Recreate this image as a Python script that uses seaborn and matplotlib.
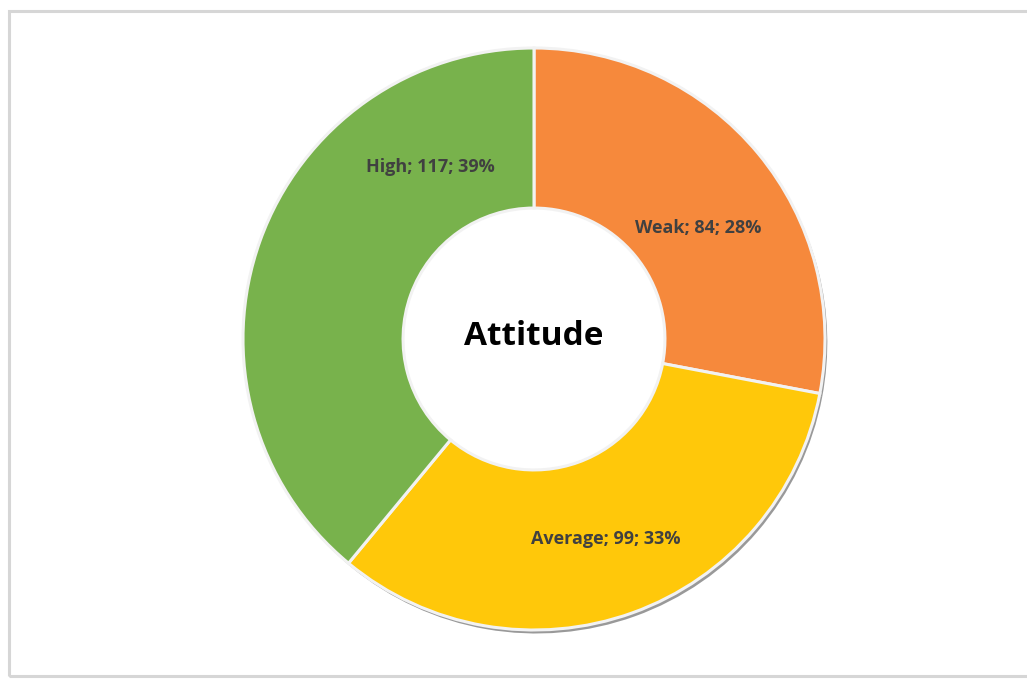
import numpy as np
import matplotlib
matplotlib.use("Agg")
import matplotlib.pyplot as plt
import seaborn as sns
from matplotlib.patches import Rectangle

categories = ["Weak", "Average", "High"]
values = [84, 99, 117]
percents = [28, 33, 39]
colors = ["#F6893C", "#FFC80A", "#78B24C"]
center_title = "Attitude"

sns.set_theme(style="white")
plt.rcParams['font.family'] = ['Open Sans', 'DejaVu Sans']
palette = sns.color_palette(colors)

fig = plt.figure(figsize=(10.27, 6.79), dpi=100)
fig.patch.set_facecolor("white")

# outer frame
fig.patches.append(Rectangle((9/1027, 3/679), 1.2, 665/679, transform=fig.transFigure,
                             fill=False, edgecolor="#D6D6D6", linewidth=2.2))

cx, cy, R = 534, 339, 291
ax = fig.add_axes([(cx - R)/1027, (679 - cy - R)/679, 2*R/1027, 2*R/679])

width = 0.55
# subtle shadow (outer edge only)
ax.pie(values, radius=1.0, startangle=90, counterclock=False,
       colors=["#999999"]*3, wedgeprops=dict(width=0.45, linewidth=0),
       center=(0.008, -0.012))
wedges, _ = ax.pie(values, radius=1.0, startangle=90, counterclock=False,
                   colors=palette,
                   wedgeprops=dict(width=width, edgecolor="#F2F2F2", linewidth=2.2))
ax.set_xlim(-1, 1)
ax.set_ylim(-1, 1)
ax.set_aspect("equal")
ax.axis("off")

# label angles (degrees clockwise from top); High placed as in the reference
total = sum(values)
cum = np.cumsum([0] + values)
label_r = [0.68, 0.73, 0.69]
label_ang = []
for i in range(len(values)):
    mid = (cum[i] + cum[i + 1]) / 2 / total * 360
    label_ang.append(mid)
label_ang[0] = 56
label_ang[2] = 329
for i, (c, v, p) in enumerate(zip(categories, values, percents)):
    a = np.deg2rad(label_ang[i])
    ax.text(label_r[i] * np.sin(a), label_r[i] * np.cos(a), f"{c}; {v}; {p}%",
            ha="center", va="center", fontsize=13, fontweight="bold", color="#404040")

ax.text(0, 0.01, center_title, ha="center", va="center", fontsize=24,
        fontweight="bold", color="black")

fig.savefig("out.png", dpi=100, facecolor="white")
